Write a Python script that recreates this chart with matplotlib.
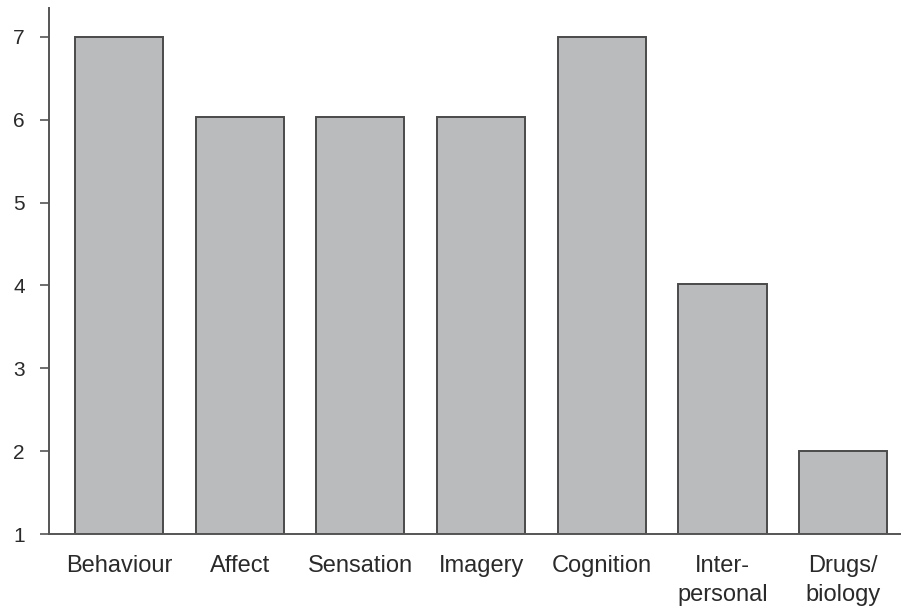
import matplotlib.pyplot as plt

categories = ['Behaviour', 'Affect', 'Sensation', 'Imagery', 'Cognition',
              'Inter-\npersonal', 'Drugs/\nbiology']
values = [7.0, 6.04, 6.04, 6.04, 7.0, 4.02, 2.0]
yticks = [1, 2, 3, 4, 5, 6, 7]

plt.rcParams['font.family'] = ['Liberation Sans', 'DejaVu Sans']

fig = plt.figure(figsize=(9.01, 6.09), dpi=100)
ax = fig.add_axes([49 / 901, 75 / 609, 851 / 901, 526 / 609])

x = list(range(len(categories)))
ax.bar(x, [v - 1 for v in values], bottom=1, width=0.73,
       color='#b9bbbd', edgecolor='#4a4a4a', linewidth=1.4)

ax.set_ylim(1, 7.35)
ax.set_xlim(-0.58, 6.47)
ax.set_yticks(yticks)
ax.set_xticks(x)
ax.set_xticklabels(categories, linespacing=1.45)

for s in ['top', 'right']:
    ax.spines[s].set_visible(False)
for s in ['left', 'bottom']:
    ax.spines[s].set_color('#555555')
    ax.spines[s].set_linewidth(1.4)

ax.tick_params(axis='y', length=6.5, width=1.2, color='#555555',
               labelsize=15, labelcolor='#2a2a2a', pad=11)
ax.tick_params(axis='x', length=0, labelsize=17, labelcolor='#2a2a2a', pad=15)

fig.savefig('out.png', dpi=100)
